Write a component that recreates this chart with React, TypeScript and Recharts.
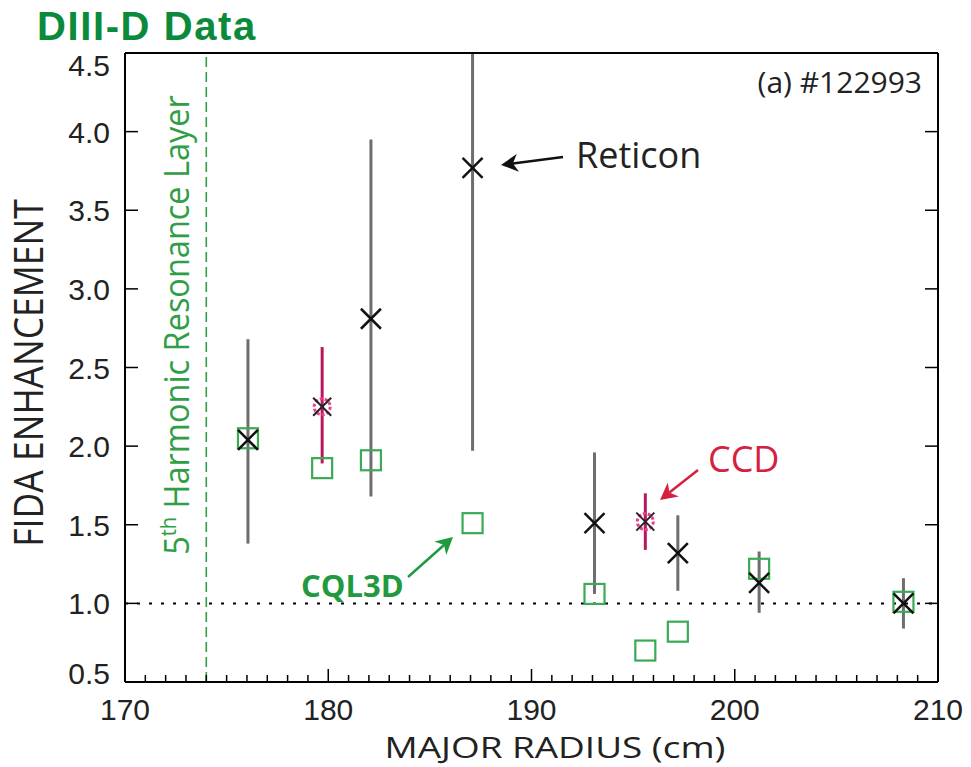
import React from "react";
import {
  ScatterChart,
  Scatter,
  XAxis,
  YAxis,
  ErrorBar,
  ReferenceLine,
} from "recharts";

// Reticon (black crosses, grey error bars)
const reticonR = [176.05, 182.1, 187.1, 193.1, 197.2, 201.2, 208.3];
const reticonVal = [2.04, 2.81, 3.77, 1.51, 1.32, 1.13, 1.0];
const reticonLow = [1.38, 1.68, 1.97, 1.06, 1.08, 0.94, 0.84];
const reticonHigh = [2.68, 3.95, 4.5, 1.96, 1.56, 1.33, 1.16];

// CCD (magenta)
const ccdR = [179.7, 195.6];
const ccdVal = [2.25, 1.52];
const ccdLow = [1.89, 1.34];
const ccdHigh = [2.63, 1.7];

// CQL3D (green squares)
const cqlR = [176.05, 179.7, 182.1, 187.1, 193.1, 195.6, 197.2, 201.2, 208.3];
const cqlVal = [2.05, 1.86, 1.91, 1.51, 1.06, 0.7, 0.82, 1.22, 1.01];

const xLabelTicks = [170, 180, 190, 200, 210];
const xTicks = Array.from({ length: 41 }, (_, i) => 170 + i);
const yTicks = [0.5, 1.0, 1.5, 2.0, 2.5, 3.0, 3.5, 4.0, 4.5];

const reticonData = reticonR.map((r, i) => ({
  r,
  v: reticonVal[i],
  err: [reticonVal[i] - reticonLow[i], reticonHigh[i] - reticonVal[i]],
}));
const ccdData = ccdR.map((r, i) => ({
  r,
  v: ccdVal[i],
  err: [ccdVal[i] - ccdLow[i], ccdHigh[i] - ccdVal[i]],
}));
const cqlData = cqlR.map((r, i) => ({ r, v: cqlVal[i] }));

const GREEN = "#2f9e45";
const DARK_GREEN = "#0b8a3c";
const CRIMSON = "#d4213f";
const tickFont = "'Liberation Sans', Arial, sans-serif";
const textFont = "'Open Sans', sans-serif";

const Cross = ({ cx, cy }: any) => (
  <g stroke="#111" strokeWidth={2.5}>
    <line x1={cx - 10} y1={cy - 10} x2={cx + 10} y2={cy + 10} />
    <line x1={cx - 10} y1={cy + 10} x2={cx + 10} y2={cy - 10} />
  </g>
);

const CcdMark = ({ cx, cy }: any) => (
  <g>
    <circle cx={cx} cy={cy} r={8} fill="none" stroke="#e8408a" strokeWidth={3} strokeDasharray="3 2" />
    <g stroke="#222" strokeWidth={2}>
      <line x1={cx - 9} y1={cy - 9} x2={cx + 9} y2={cy + 9} />
      <line x1={cx - 9} y1={cy + 9} x2={cx + 9} y2={cy - 9} />
    </g>
  </g>
);

const Square = ({ cx, cy }: any) => (
  <rect x={cx - 10} y={cy - 10} width={20} height={20} fill="none" stroke="#3aaa55" strokeWidth={2.2} />
);

const Nothing = () => <g />;

const BottomTick = ({ x, y, payload }: any) => {
  const major = xLabelTicks.includes(payload.value);
  return (
    <g>
      <line x1={x} x2={x} y1={y} y2={y - (major ? 13 : 7)} stroke="#000" strokeWidth={1.5} />
      {major && (
        <text x={x} y={y + 38} textAnchor="middle" fontFamily={tickFont} fontSize={30} fill="#222">
          {payload.value}
        </text>
      )}
    </g>
  );
};

const TopTick = ({ x, y, payload }: any) => {
  const major = xLabelTicks.includes(payload.value);
  return <line x1={x} x2={x} y1={y} y2={y + (major ? 13 : 7)} stroke="#000" strokeWidth={1.5} />;
};

const LeftTick = ({ x, y, payload }: any) => {
  let dy = 11;
  if (payload.value === 4.5) dy = 23;
  if (payload.value === 0.5) dy = 2;
  return (
    <g>
      <line x1={x} x2={x + 13} y1={y} y2={y} stroke="#000" strokeWidth={1.5} />
      <text x={x - 15} y={y + dy} textAnchor="end" fontFamily={tickFont} fontSize={30} fill="#222">
        {payload.value.toFixed(1)}
      </text>
    </g>
  );
};

const RightTick = ({ x, y }: any) => (
  <line x1={x} x2={x - 13} y1={y} y2={y} stroke="#000" strokeWidth={1.5} />
);

function Arrow({ x1, y1, x2, y2, color }: any) {
  const dx = x2 - x1;
  const dy = y2 - y1;
  const len = Math.sqrt(dx * dx + dy * dy);
  const ux = dx / len;
  const uy = dy / len;
  const head = 17;
  const half = 9;
  const notch = 5;
  const bx = x2 - ux * head;
  const by = y2 - uy * head;
  const nx = bx + ux * notch;
  const ny = by + uy * notch;
  const pts = `${x2},${y2} ${bx - uy * half},${by + ux * half} ${nx},${ny} ${bx + uy * half},${by - ux * half}`;
  return (
    <g>
      <line x1={x1} y1={y1} x2={nx} y2={ny} stroke={color} strokeWidth={2.5} />
      <polygon points={pts} fill={color} />
    </g>
  );
}

export default function App() {
  return (
    <div style={{ position: "absolute", left: 0, top: 0, width: 971, height: 767, background: "#fff" }}>
      <ScatterChart
        width={971}
        height={767}
        margin={{ top: 52, right: 32, bottom: 25, left: 0 }}
      >
        <XAxis
          dataKey="r"
          type="number"
          domain={[170, 210]}
          ticks={xTicks}
          interval={0}
          tickSize={0}
          tickMargin={0}
          tickLine={false}
          tick={<BottomTick />}
          height={60}
          axisLine={{ stroke: "#000", strokeWidth: 2 }}
          allowDataOverflow
        />
        <XAxis
          xAxisId="top"
          orientation="top"
          type="number"
          domain={[170, 210]}
          ticks={xTicks}
          interval={0}
          tickSize={0}
          tickMargin={0}
          tickLine={false}
          tick={<TopTick />}
          height={1}
          axisLine={{ stroke: "#000", strokeWidth: 2 }}
          allowDataOverflow
        />
        <YAxis
          dataKey="v"
          type="number"
          domain={[0.5, 4.5]}
          ticks={yTicks}
          interval={0}
          tickSize={0}
          tickMargin={0}
          tickLine={false}
          tick={<LeftTick />}
          width={125}
          axisLine={{ stroke: "#000", strokeWidth: 2 }}
          allowDataOverflow
        />
        <YAxis
          yAxisId="right"
          orientation="right"
          type="number"
          domain={[0.5, 4.5]}
          ticks={yTicks}
          interval={0}
          tickSize={0}
          tickMargin={0}
          tickLine={false}
          tick={<RightTick />}
          width={1}
          axisLine={{ stroke: "#000", strokeWidth: 2 }}
          allowDataOverflow
        />
        <ReferenceLine y={1} stroke="#000" strokeWidth={2} strokeDasharray="3 9" />
        <ReferenceLine x={174} stroke={GREEN} strokeWidth={1.6} strokeDasharray="10 5" />
        <Scatter data={reticonData} shape={<Nothing />} isAnimationActive={false}>
          <ErrorBar dataKey="err" direction="y" width={0} stroke="#6e6e6e" strokeWidth={3} isAnimationActive={false} />
        </Scatter>
        <Scatter data={ccdData} shape={<Nothing />} isAnimationActive={false}>
          <ErrorBar dataKey="err" direction="y" width={0} stroke="#b8185e" strokeWidth={3} isAnimationActive={false} />
        </Scatter>
        <Scatter data={cqlData} shape={<Square />} isAnimationActive={false} />
        <Scatter data={reticonData} shape={<Cross />} isAnimationActive={false} />
        <Scatter data={ccdData} shape={<CcdMark />} isAnimationActive={false} />
      </ScatterChart>
      <svg
        width={971}
        height={767}
        style={{ position: "absolute", left: 0, top: 0, pointerEvents: "none" }}
      >
        <text x={37} y={40} fontFamily={tickFont} fontWeight="bold" fontSize={40} fill={DARK_GREEN} letterSpacing={1.6}>
          DIII-D Data
        </text>
        <text
          transform="translate(43,373) rotate(-90) scale(1,1.15)"
          textAnchor="middle"
          fontFamily={textFont}
          fontSize={35.5}
          fill="#222"
        >
          FIDA ENHANCEMENT
        </text>
        <text
          transform="translate(555,758) scale(1.23,1)"
          textAnchor="middle"
          fontFamily={textFont}
          fontSize={30}
          fill="#222"
        >
          MAJOR RADIUS (cm)
        </text>
        <text
          transform="translate(189,325) rotate(-90) scale(1,1.08)"
          textAnchor="middle"
          fontFamily={textFont}
          fontSize={32.5}
          fill={GREEN}
        >
          5<tspan fontSize={20} dy={-12}>th</tspan>
          <tspan dy={12}> Harmonic Resonance Layer</tspan>
        </text>
        <text x={922} y={93} textAnchor="end" fontFamily={textFont} fontSize={30} fill="#222">
          (a) #122993
        </text>
        <text x={576} y={168} fontFamily={textFont} fontSize={36} fill="#222">
          Reticon
        </text>
        <Arrow x1={563} y1={157} x2={501} y2={165} color="#111" />
        <text x={708} y={472} fontFamily={textFont} fontSize={36} fill={CRIMSON}>
          CCD
        </text>
        <Arrow x1={698} y1={470} x2={660} y2={500} color={CRIMSON} />
        <text x={301} y={597} fontFamily={textFont} fontWeight="bold" fontSize={31} fill="#1f9a40">
          CQL3D
        </text>
        <Arrow x1={408} y1={577} x2={453} y2={537} color="#1f9a40" />
      </svg>
    </div>
  );
}
